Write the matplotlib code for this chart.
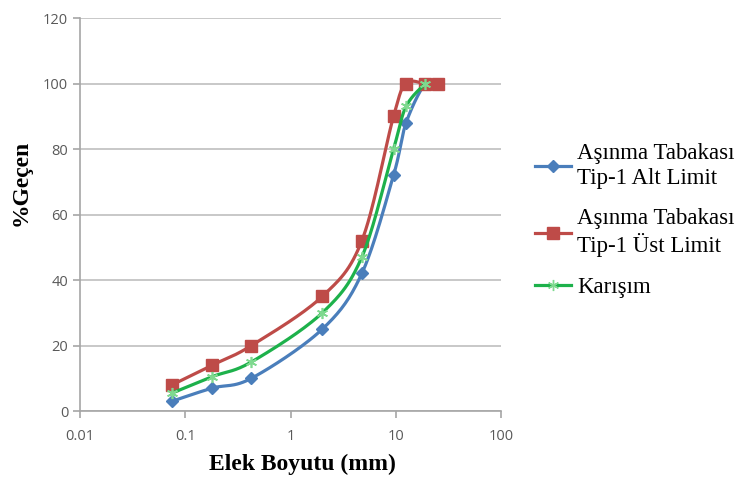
import numpy as np
import matplotlib.pyplot as plt

# sieve sizes (mm) and percent passing
sieve = [0.075, 0.18, 0.425, 2, 4.75, 9.5, 12.5, 19, 25]
alt_limit = [3, 7, 10, 25, 42, 72, 88, 100, 100]
ust_limit = [8, 14, 20, 35, 52, 90, 100, 100, 100]
karisim_sieve = [0.075, 0.18, 0.425, 2, 4.75, 9.5, 12.5, 19]
karisim = [5.5, 10.5, 15, 30, 47, 80, 93, 100]

labels = ["Aşınma Tabakası\nTip-1 Alt Limit", "Aşınma Tabakası\nTip-1 Üst Limit", "Karışım"]


def smooth(x, y, n=30):
    # Excel-like smoothed line: Catmull-Rom in log-x space
    lx = np.log10(np.asarray(x, float))
    y = np.asarray(y, float)
    p = np.column_stack([lx, y])
    p = np.vstack([p[0], p, p[-1]])
    out = []
    for i in range(1, len(p) - 2):
        p0, p1, p2, p3 = p[i - 1], p[i], p[i + 1], p[i + 2]
        t = np.linspace(0, 1, n)[:, None]
        c = 0.5 * ((2 * p1) + (-p0 + p2) * t + (2 * p0 - 5 * p1 + 4 * p2 - p3) * t ** 2
                   + (-p0 + 3 * p1 - 3 * p2 + p3) * t ** 3)
        out.append(c)
    c = np.vstack(out)
    return 10 ** c[:, 0], c[:, 1]


fig = plt.figure(figsize=(7.48, 4.87), dpi=100)
ax = fig.add_axes([0.107, 0.156, 0.563, 0.807])

sx, sy = smooth(sieve, alt_limit)
ax.plot(sx, sy, color="#4A7EBB", lw=2.3, zorder=3)
ax.plot(sieve, alt_limit, ls="none", marker="D", ms=6.5, color="#4A7EBB", zorder=4)

sx, sy = smooth(sieve, ust_limit)
ax.plot(sx, sy, color="#BE4B48", lw=2.3, zorder=3)
ax.plot(sieve, ust_limit, ls="none", marker="s", ms=8, color="#BE4B48", zorder=4)

sx, sy = smooth(karisim_sieve, karisim)
ax.plot(sx, sy, color="#1DB14B", lw=2.3, zorder=5)
ax.plot(karisim_sieve, karisim, ls="none", marker=(6, 2, 0), ms=8, mew=1.2,
        color="#7FD98F", zorder=5)

ax.set_xscale("log")
ax.set_xlim(0.01, 100)
ax.set_ylim(0, 120)
ax.set_yticks(range(0, 121, 20))
ax.set_xticks([0.01, 0.1, 1, 10, 100])
ax.set_xticklabels(["0.01", "0.1", "1", "10", "100"])
ax.xaxis.set_minor_locator(plt.NullLocator())
ax.grid(axis="y", color="#BFBFBF", lw=1.2)
ax.set_axisbelow(True)
for s in ["top", "right"]:
    ax.spines[s].set_visible(False)
for s in ["left", "bottom"]:
    ax.spines[s].set_color("#A6A6A6")
    ax.spines[s].set_linewidth(1.2)
ax.tick_params(colors="#A6A6A6", labelcolor="#595959", labelsize=10.5, length=5, width=1.2)
for t in ax.get_xticklabels() + ax.get_yticklabels():
    t.set_family("Open Sans")
ax.tick_params(axis="x", pad=8)

ax.set_xlabel("Elek Boyutu (mm)", family="Liberation Serif", fontweight="bold", fontsize=17)
ax.xaxis.set_label_coords(0.527, -0.11)
ax.set_ylabel("%Geçen", family="Liberation Serif", fontweight="bold", fontsize=17)
ax.yaxis.set_label_coords(-0.115, 0.58)

h1 = plt.Line2D([], [], color="#4A7EBB", lw=2.3, marker="D", ms=6.5)
h2 = plt.Line2D([], [], color="#BE4B48", lw=2.3, marker="s", ms=8)
h3 = plt.Line2D([], [], color="#1DB14B", lw=2.3, marker=(6, 2, 0), ms=8, mfc="#7FD98F", mec="#7FD98F")
leg = fig.legend([h1, h2, h3], labels, loc="upper left", bbox_to_anchor=(0.715, 0.706),
                 frameon=False, prop={"family": "Liberation Serif", "size": 16.5},
                 handlelength=1.6, handletextpad=0.25, labelspacing=0.85, borderpad=0,
                 borderaxespad=0)
for t in leg.get_texts():
    t.set_linespacing(1.22)

fig.savefig("out.png", dpi=100)
